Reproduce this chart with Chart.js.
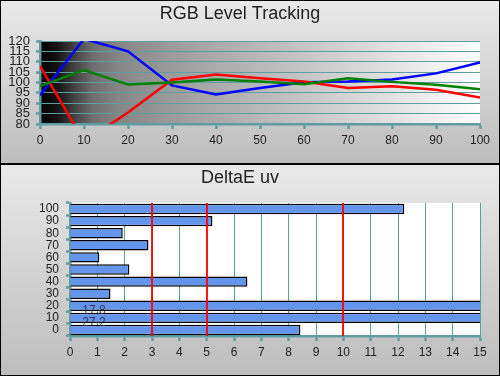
<!DOCTYPE html>
<html>
<head>
<meta charset="utf-8">
<script src="https://cdn.jsdelivr.net/npm/chart.js@4/dist/chart.umd.min.js"></script>
<style>
  html, body { margin: 0; padding: 0; background: #fff; }
  #wrap { width: 500px; height: 376px; position: relative; }
  canvas { display: block; }
</style>
</head>
<body>
<div id="wrap">
  <canvas id="top" width="500" height="164"></canvas>
  <canvas id="bottom" width="500" height="212"></canvas>
</div>
<script>
// ---- Data ----
const levels = [0, 10, 20, 30, 40, 50, 60, 70, 80, 90, 100];
const redLevels   = [108, 71.5, 85.5, 101.3, 103.8, 102, 100.5, 97.3, 98.2, 96.5, 92.8];
const greenLevels = [98.3, 106, 99, 100, 101.4, 100.5, 99.2, 102, 100.3, 98.9, 96.8];
const blueLevels  = [93.8, 121, 115, 98.6, 94.2, 97.3, 100.1, 100.5, 101.4, 104.4, 109.7];

const deltaCategories = ['0', '10', '20', '30', '40', '50', '60', '70', '80', '90', '100'];
const deltaEuv = [8.43, 27.2, 17.8, 1.48, 6.49, 2.17, 1.07, 2.87, 1.93, 5.21, 12.23];
const deltaThresholds = [3, 5, 10];

const topTitle = 'RGB Level Tracking';
const bottomTitle = 'DeltaE uv';

// ---- Styling ----
const TEAL = '#5f9ea0';
const TEXT = '#222222';
Chart.defaults.font.family = "'Liberation Sans', Arial, Helvetica, sans-serif";
Chart.defaults.color = TEXT;

const panelPlugin = {
  id: 'panel',
  beforeDraw(chart, args, opts) {
    const ctx = chart.ctx, w = chart.width, h = chart.height;
    ctx.save();
    const g = ctx.createLinearGradient(0, 0, 0, h);
    g.addColorStop(0, '#e9e9e9');
    g.addColorStop(1, '#bdbdbd');
    ctx.fillStyle = g;
    ctx.fillRect(0, 0, w, h);
    const a = chart.chartArea;
    if (opts.plot === 'dark') {
      const pg = ctx.createLinearGradient(a.left, 0, a.right, 0);
      pg.addColorStop(0, '#000000');
      pg.addColorStop(0.04, '#141414');
      pg.addColorStop(0.08, '#444444');
      pg.addColorStop(0.12, '#6e6e6e');
      pg.addColorStop(0.18, '#868686');
      pg.addColorStop(0.35, '#a4a4a4');
      pg.addColorStop(0.6, '#c6c6c6');
      pg.addColorStop(0.8, '#e2e2e2');
      pg.addColorStop(1, '#ffffff');
      ctx.fillStyle = pg;
    } else {
      ctx.fillStyle = '#ffffff';
    }
    ctx.fillRect(a.left, a.top, a.right - a.left, a.bottom - a.top);
    ctx.restore();
  },
  afterDraw(chart) {
    const ctx = chart.ctx;
    ctx.save();
    ctx.strokeStyle = '#000';
    ctx.lineWidth = 1;
    ctx.strokeRect(0.5, 0.5, chart.width - 1, chart.height - 1);
    ctx.restore();
  }
};

const refLinesPlugin = {
  id: 'refLines',
  afterDatasetsDraw(chart) {
    const ctx = chart.ctx, x = chart.scales.x, a = chart.chartArea;
    ctx.save();
    ctx.strokeStyle = 'rgba(255,0,0,0.9)';
    ctx.lineWidth = 2;
    deltaThresholds.forEach(v => {
      const px = Math.round(x.getPixelForValue(v));
      ctx.beginPath();
      ctx.moveTo(px, a.top);
      ctx.lineTo(px, a.bottom);
      ctx.stroke();
    });
    // values beyond the axis maximum are written inside their bar
    const meta = chart.getDatasetMeta(0);
    ctx.fillStyle = 'rgba(40,40,60,0.85)';
    ctx.font = "12px 'Liberation Sans', Arial, sans-serif";
    ctx.textAlign = 'left';
    ctx.textBaseline = 'middle';
    deltaEuv.forEach((v, i) => {
      if (v > x.max) {
        const bar = meta.data[i];
        ctx.fillText(v.toFixed(1), x.getPixelForValue(0.45), bar.y + 4.5);
      }
    });
    ctx.restore();
  }
};

const toPoints = arr => levels.map((l, i) => ({ x: l, y: arr[i] }));
const lineDs = (arr, color) => ({
  data: toPoints(arr), borderColor: color, borderWidth: 2.5,
  pointRadius: 0, tension: 0, fill: false
});

new Chart(document.getElementById('top'), {
  type: 'line',
  data: {
    datasets: [
      lineDs(greenLevels, '#008000'),
      lineDs(redLevels, '#ff0000'),
      lineDs(blueLevels, '#0000ff')
    ]
  },
  options: {
    responsive: false,
    animation: false,
    events: [],
    layout: { padding: { left: 0, right: 20, top: 0, bottom: 0 } },
    plugins: {
      legend: { display: false },
      tooltip: { enabled: false },
      title: {
        display: true, text: topTitle, color: TEXT,
        font: { size: 18, weight: 'normal' },
        padding: { top: 3, bottom: 16.4 }
      },
      panel: { plot: 'dark' }
    },
    scales: {
      x: {
        type: 'linear', min: 0, max: 100,
        ticks: { stepSize: 10, autoSkip: false, color: TEXT, font: { size: 12 }, padding: 4 },
        grid: { drawOnChartArea: false, color: TEAL, tickLength: 5, tickWidth: 2.5 },
        border: { color: TEAL, width: 2.5 },
        afterFit(s) { s.height = 40; }
      },
      y: {
        type: 'linear', min: 80, max: 120,
        ticks: { stepSize: 5, autoSkip: false, color: TEXT, font: { size: 13, lineHeight: 0.9 }, padding: 6 },
        grid: { color: TEAL, lineWidth: 1, tickLength: 4, tickWidth: 2.5 },
        border: { color: TEAL, width: 2.5 },
        afterFit(s) { s.width = 40; }
      }
    }
  },
  plugins: [panelPlugin]
});

new Chart(document.getElementById('bottom'), {
  type: 'bar',
  data: {
    labels: deltaCategories,
    datasets: [{
      data: deltaEuv,
      backgroundColor: '#6495ed',
      borderColor: '#000000',
      borderWidth: 1.5,
      barPercentage: 0.86,
      categoryPercentage: 1,
      clip: 0
    }]
  },
  options: {
    indexAxis: 'y',
    responsive: false,
    animation: false,
    events: [],
    layout: { padding: { left: 0, right: 20, top: 0, bottom: 0 } },
    plugins: {
      legend: { display: false },
      tooltip: { enabled: false },
      title: {
        display: true, text: bottomTitle, color: TEXT,
        font: { size: 18, weight: 'normal' },
        padding: { top: 3, bottom: 14.4 }
      },
      panel: { plot: 'white' }
    },
    scales: {
      x: {
        type: 'linear', min: 0, max: 15,
        ticks: { stepSize: 1, autoSkip: false, color: TEXT, font: { size: 12 }, padding: 4 },
        grid: { color: TEAL, lineWidth: 1, tickLength: 5, tickWidth: 2.5 },
        border: { color: TEAL, width: 2.5 },
        afterFit(s) { s.height = 40; }
      },
      y: {
        reverse: true,
        ticks: { autoSkip: false, color: TEXT, font: { size: 12, lineHeight: 0.9 }, padding: 7 },
        grid: { drawOnChartArea: false, color: TEAL, tickLength: 4, tickWidth: 2.5 },
        border: { color: TEAL, width: 2.5 },
        afterFit(s) { s.width = 70; }
      }
    }
  },
  plugins: [panelPlugin, refLinesPlugin]
});
</script>
</body>
</html>
